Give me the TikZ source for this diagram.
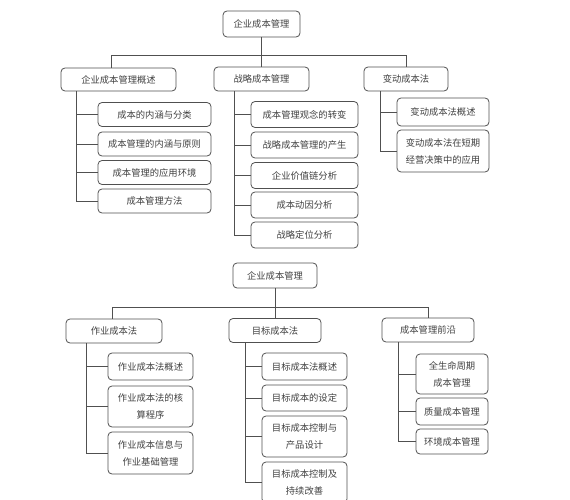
\documentclass[tikz,border=0pt]{standalone}
\usepackage{fontspec}
\newfontfamily\cjk{Noto Sans CJK SC}
\definecolor{lncol}{HTML}{505050}
\definecolor{txcol}{HTML}{404040}
\tikzset{
  box/.style={draw=lncol, line width=0.8pt, rounded corners=4pt, inner sep=0pt,
    align=center, text=txcol, font={\fontsize{9.3}{17}\cjk}},
  link/.style={draw=lncol, line width=0.8pt},
  kidA/.style={box, minimum width=113pt, minimum height=24pt},
  kidB/.style={box, minimum width=107pt, minimum height=26pt},
  kidC/.style={box, minimum width=92pt},
  kidD/.style={box, minimum width=85pt},
  kidE/.style={box, minimum width=85pt},
  kidF/.style={box, minimum width=72pt}
}
\begin{document}
\begin{tikzpicture}[x=1pt,y=-1pt]
  \useasboundingbox (0,0) rectangle (570,500);
  \clip (0,0) rectangle (570,500);
  % First tree
  \node[box, minimum width=77pt, minimum height=26pt] (root1) at (261.5,24) {企业成本管理};
  \node[box, minimum width=115pt, minimum height=23pt] (a) at (118.5,79.5) {企业成本管理概述};
  \node[box, minimum width=95pt, minimum height=24pt] (b) at (261.5,79) {战略成本管理};
  \node[box, minimum width=84pt, minimum height=24pt] (c) at (406,79) {变动成本法};
  \draw[link] (root1) -- (b);
  \draw[link] ([xshift=-7pt]a.north) -- ++(0,-12) -| (c);
  % Overview branch
  \node[kidA] (a1) at (154.5,114.5) {成本的内涵与分类};
  \node[kidA] (a2) at (154.5,144) {成本管理的内涵与原则};
  \node[kidA] (a3) at (154.5,172.5) {成本管理的应用环境};
  \node[kidA] (a4) at (154.5,201) {成本管理方法};
  \coordinate (sa) at ([xshift=16pt]a.south west);
  \foreach \k in {a1,a2,a3,a4}
    \draw[link] (sa) |- (\k);
  % Strategy branch
  \node[kidB] (b1) at (304.5,114.5) {成本管理观念的转变};
  \node[kidB] (b2) at (304.5,145) {战略成本管理的产生};
  \node[kidB] (b3) at (304.5,175.5) {企业价值链分析};
  \node[kidB] (b4) at (304.5,205) {成本动因分析};
  \node[kidB] (b5) at (304.5,235) {战略定位分析};
  \coordinate (sb) at ([xshift=21pt]b.south west);
  \foreach \k in {b1,b2,b3,b4,b5}
    \draw[link] (sb) |- (\k);
  % Variable costing branch
  \node[kidC, minimum height=28pt] (c1) at (443,112) {变动成本法概述};
  \node[kidC, minimum height=42pt] (c2) at (443,151) {变动成本法在短期\\经营决策中的应用};
  \coordinate (sc) at ([xshift=17pt]c.south west);
  \foreach \k in {c1,c2}
    \draw[link] (sc) |- (\k);
  % Second tree
  \node[box, minimum width=84pt, minimum height=25pt] (root2) at (275,275.5) {企业成本管理};
  \node[box, minimum width=96pt, minimum height=24pt] (d) at (114,331) {作业成本法};
  \node[box, minimum width=92pt, minimum height=24pt] (e) at (275,330.5) {目标成本法};
  \node[box, minimum width=92pt, minimum height=24pt] (f) at (428,330) {成本管理前沿};
  \draw[link] (root2) -- (e);
  \draw[link] ([xshift=-2pt]d.north) -- ++(0,-11) -| (f);
  % Activity costing branch
  \node[kidD, minimum height=27pt] (d1) at (150.5,366.5) {作业成本法概述};
  \node[kidD, minimum height=41pt] (d2) at (150.5,406.5) {作业成本法的核\\算程序};
  \node[kidD, minimum height=42pt] (d3) at (150.5,453) {作业成本信息与\\作业基础管理};
  \coordinate (sd) at ([xshift=21pt]d.south west);
  \foreach \k in {d1,d2,d3}
    \draw[link] (sd) |- (\k);
  % Target costing branch
  \node[kidE, minimum height=27pt] (e1) at (304.5,366.5) {目标成本法概述};
  \node[kidE, minimum height=26pt] (e2) at (304.5,398) {目标成本的设定};
  \node[kidE, minimum height=41pt] (e3) at (304.5,436.5) {目标成本控制与\\产品设计};
  \node[kidE, minimum height=41pt] (e4) at (304.5,482.5) {目标成本控制及\\持续改善};
  \coordinate (se) at ([xshift=17pt]e.south west);
  \foreach \k in {e1,e2,e3,e4}
    \draw[link] (se) |- (\k);
  % Frontier branch
  \node[kidF, minimum height=40pt] (f1) at (452,374) {全生命周期\\成本管理};
  \node[kidF, minimum height=27pt] (f2) at (452,411.5) {质量成本管理};
  \node[kidF, minimum height=25pt] (f3) at (452,441.5) {环境成本管理};
  \coordinate (sf) at ([xshift=17pt]f.south west);
  \foreach \k in {f1,f2,f3}
    \draw[link] (sf) |- (\k);
\end{tikzpicture}
\end{document}
